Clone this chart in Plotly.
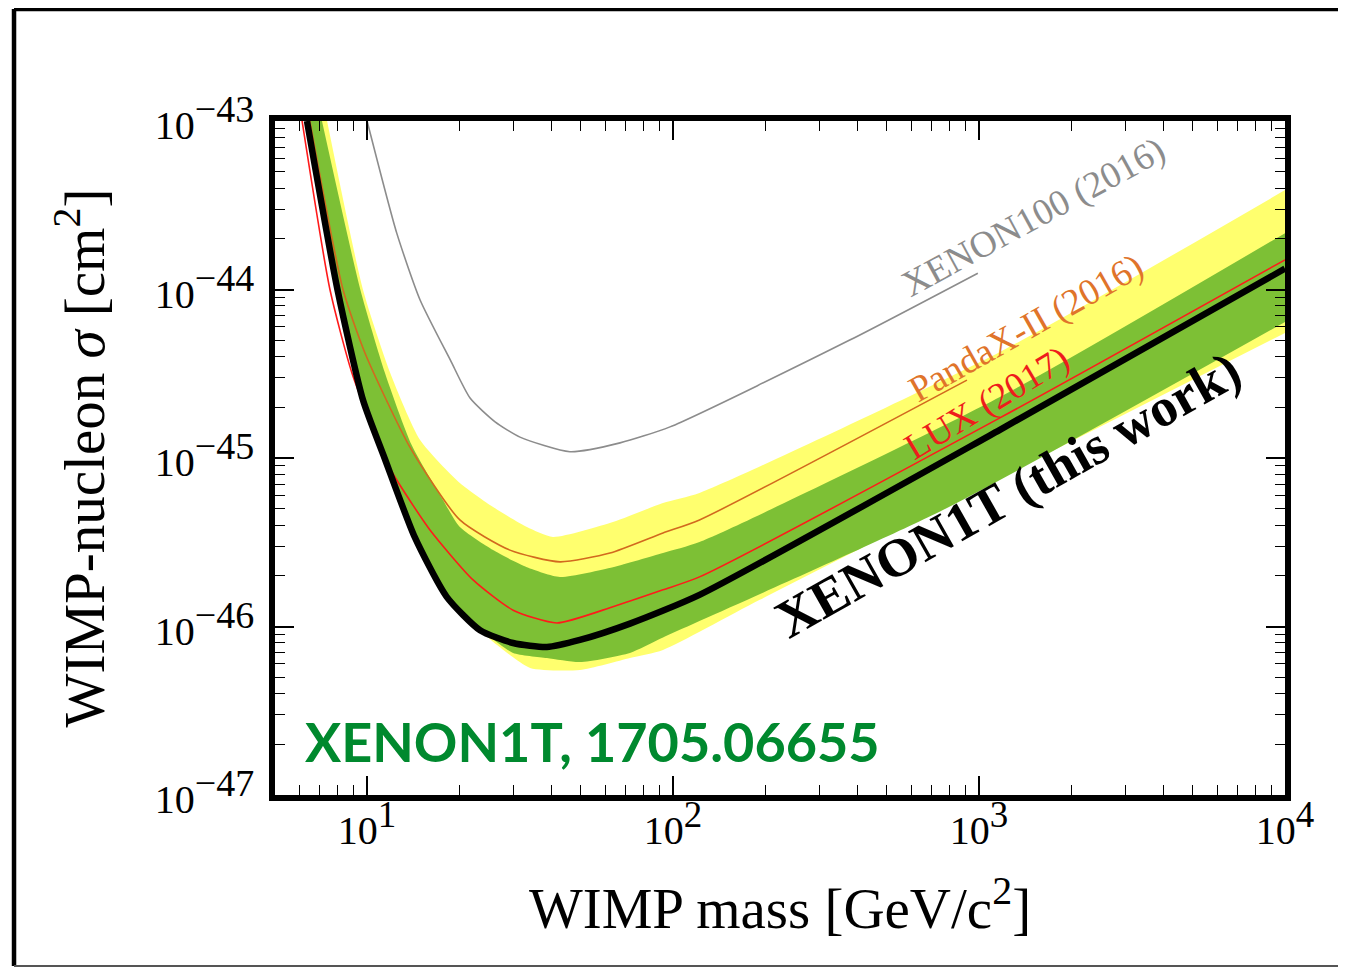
import numpy as np
import plotly.graph_objects as go

# ---------------- data (WIMP mass in GeV/c^2, cross-section in cm^2) ----------------
x1t_mass = [6.36, 8.0, 9.7, 11.4, 14.3, 18.2, 23.4, 30.0, 38.7, 49.6, 72.3, 122, 1170, 10000]
x1t_sig = [1.0e-43, 1.0e-44, 2.2e-45, 1.0e-45, 3.4e-46, 1.5e-46, 9.5e-47, 7.98e-47, 7.55e-47,
           8.32e-47, 1.04e-46, 1.54e-46, 1.47e-45, 1.33e-44]

lux_mass = [6.13, 7.56, 8.92, 11.44, 12.5, 16.05, 22.2, 30.0, 41.7, 63.6, 92.7, 122, 1170, 10000]
lux_sig = [1e-43, 1.0e-44, 3.2e-45, 1.0e-45, 7.4e-46, 3.74e-46, 1.89e-46, 1.25e-46, 1.05e-46, 1.31e-46,
           1.65e-46, 1.97e-46, 1.73e-45, 1.50e-44]

pandax_mass = [6.5, 8.34, 9.84, 13.8, 20.1, 29.3, 42.7, 62.2, 92.7, 122, 913]
pandax_sig = [1e-43, 1.0e-44, 4.2e-45, 1.16e-45, 4.29e-46, 2.84e-46, 2.42e-46, 2.73e-46, 3.59e-46, 4.29e-46, 2.9e-45]

x100_mass = [10.0, 12.5, 14.9, 18.7, 21.7, 26.2, 31.6, 46.0, 67.1, 97.7, 378, 991]
x100_sig = [1e-43, 2.16e-44, 8.67e-45, 3.82e-45, 2.27e-45, 1.64e-45, 1.33e-45, 1.09e-45, 1.23e-45,
            1.53e-45, 5.01e-45, 1.25e-44]

# 2 sigma band (yellow)
y2_up_mass = [7.40, 9.69, 11.9, 14.9, 20.1, 25.8, 33.3, 40.5, 63.6, 92.7, 122, 1170, 10000]
y2_up_sig = [1e-43, 1.0e-44, 3.2e-45, 1.28e-45, 7.11e-46, 5.12e-46, 3.89e-46, 3.40e-46, 4.17e-46,
             5.41e-46, 6.2e-46, 4.26e-45, 3.89e-44]
y2_lo_mass = [6.36, 8.0, 9.7, 11.4, 14.3, 18.2, 23.4, 26.6, 34.1, 49.6, 72.3, 92.7, 192, 10000]
y2_lo_sig = [1.0e-43, 1.0e-44, 2.2e-45, 1.0e-45, 3.4e-46, 1.5e-46, 9.5e-47, 7.76e-47, 5.67e-47,
             5.52e-47, 6.5e-47, 7.26e-47, 1.44e-46, 5.52e-45]

# 1 sigma band (green)
g1_up_mass = [7.12, 9.5, 11.44, 14.0, 17.7, 20.1, 25.8, 33.3, 42.7, 63.6, 92.7, 122, 1170, 10000]
g1_up_sig = [1e-43, 1.0e-44, 3.2e-45, 1.19e-45, 5.64e-46, 3.89e-46, 2.84e-46, 2.25e-46, 1.97e-46,
             2.25e-46, 2.73e-46, 3.17e-46, 2.30e-45, 2.16e-44]
g1_lo_mass = [6.36, 8.0, 9.7, 11.4, 14.3, 18.2, 23.4, 25.2, 30.0, 38.7, 49.6, 72.3, 92.7, 762, 10000]
g1_lo_sig = [1.0e-43, 1.0e-44, 2.2e-45, 1.0e-45, 3.4e-46, 1.5e-46, 9.5e-47, 8.67e-47, 6.97e-47,
             6.5e-47, 6.15e-47, 6.97e-47, 8.6e-47, 4.91e-46, 6.41e-45]

x_tickvals = [1e1, 1e2, 1e3, 1e4]
x_exps = ["1", "2", "3", "4"]
y_tickvals = [1e-47, 1e-46, 1e-45, 1e-44, 1e-43]
y_exps = ["\u221247", "\u221246", "\u221245", "\u221244", "\u221243"]

# curve labels: (text, mass, sigma, angle, colour, size, bold)
labels = [
    ("XENON100 (2016)", 1511, 2.69e-44, -28.5, "#8c8c8c", 37, False),
    ("PandaX-II (2016)", 1423, 5.91e-45, -29.5, "#e0742a", 37, False),
    ("LUX (2017)", 1062, 2.12e-45, -31, "#ee1c1c", 37, False),
    ("XENON1T (this work)", 1241, 6.03e-46, -29.5, "#000000", 54, True),
]

YELLOW = "#ffff6e"
GREEN = "#7dc035"
SERIF = "Liberation Serif"


def sup_label(exp, size):
    return f"10<sup><span style='font-size:{size}px'>{exp}</span></sup>"


fig = go.Figure()

sm = 0.6
fig.add_trace(go.Scatter(x=y2_lo_mass, y=y2_lo_sig, mode="lines", line=dict(width=0, shape="spline", smoothing=sm),
                         showlegend=False, hoverinfo="skip"))
fig.add_trace(go.Scatter(x=y2_up_mass, y=y2_up_sig, mode="lines", line=dict(width=0, shape="spline", smoothing=sm),
                         fill="tonexty", fillcolor=YELLOW, showlegend=False, hoverinfo="skip"))
fig.add_trace(go.Scatter(x=g1_lo_mass, y=g1_lo_sig, mode="lines", line=dict(width=0, shape="spline", smoothing=sm),
                         showlegend=False, hoverinfo="skip"))
fig.add_trace(go.Scatter(x=g1_up_mass, y=g1_up_sig, mode="lines", line=dict(width=0, shape="spline", smoothing=sm),
                         fill="tonexty", fillcolor=GREEN, showlegend=False, hoverinfo="skip"))

fig.add_trace(go.Scatter(x=x100_mass, y=x100_sig, mode="lines",
                         line=dict(color="#8c8c8c", width=1.6, shape="spline", smoothing=sm), showlegend=False))
fig.add_trace(go.Scatter(x=pandax_mass, y=pandax_sig, mode="lines",
                         line=dict(color="#d2691e", width=1.6, shape="spline", smoothing=sm), showlegend=False))
fig.add_trace(go.Scatter(x=lux_mass, y=lux_sig, mode="lines",
                         line=dict(color="#ff1a1a", width=1.6, shape="spline", smoothing=sm), showlegend=False))
fig.add_trace(go.Scatter(x=x1t_mass, y=x1t_sig, mode="lines",
                         line=dict(color="black", width=6.5, shape="spline", smoothing=sm), showlegend=False))

for text, m, s, ang, col, size, bold in labels:
    fig.add_annotation(x=np.log10(m), y=np.log10(s), xref="x", yref="y",
                       text=f"<b>{text}</b>" if bold else text, textangle=ang, showarrow=False,
                       font=dict(family=SERIF, size=size, color=col))

fig.add_annotation(x=0.028, y=0.079, xref="paper", yref="paper", xanchor="left", yanchor="middle",
                   text="XENON1T, 1705.06655", showarrow=False,
                   font=dict(family="Lato", size=54, color="#00892e", weight="bold"))

# outer page frame
fig.add_shape(type="line", xref="paper", yref="paper", x0=-0.2584, x1=1.09, y0=1.166, y1=1.166,
              line=dict(color="black", width=4.5))
fig.add_shape(type="line", xref="paper", yref="paper", x0=-0.2584, x1=-0.2584, y0=-0.2537, y1=1.166,
              line=dict(color="black", width=4.5))
fig.add_shape(type="line", xref="paper", yref="paper", x0=-0.2584, x1=1.09, y0=-0.2537, y1=-0.2537,
              line=dict(color="#555555", width=2))

axis_common = dict(
    type="log", showgrid=False, zeroline=False,
    showline=True, linewidth=5.5, linecolor="black", mirror="allticks",
    ticks="inside", ticklen=19, tickwidth=1.6, tickcolor="black",
    tickfont=dict(family=SERIF, size=40, color="black"),
    minor=dict(ticks="inside", ticklen=10, tickwidth=1.4, tickcolor="black", dtick="D1", showgrid=False),
)

fig.update_xaxes(range=[np.log10(5), 4], tickvals=x_tickvals,
                 ticktext=[sup_label(e, 37) for e in x_exps],
                 ticklabelstandoff=-5,
                 title=dict(text="WIMP mass [GeV/c<sup>2</sup>]", standoff=38,
                            font=dict(family=SERIF, size=57, color="black")),
                 **axis_common)
fig.update_yaxes(range=[-47, -43], tickvals=y_tickvals,
                 ticktext=[sup_label(e, 38) for e in y_exps],
                 ticklabelstandoff=7, ticklabelshift=4,
                 title=dict(text="WIMP-nucleon <i>\u03c3</i> [cm<sup>2</sup>]", standoff=34,
                            font=dict(family=SERIF, size=57, color="black")),
                 **axis_common)

# the page body has an 8 px margin, so the figure is offset by 8 px; margins compensate
fig.update_layout(
    width=1346, height=960, autosize=False,
    margin=dict(l=267, r=69, t=113, b=173),
    plot_bgcolor="white", paper_bgcolor="white",
    showlegend=False,
)

fig.write_html("out.html")
